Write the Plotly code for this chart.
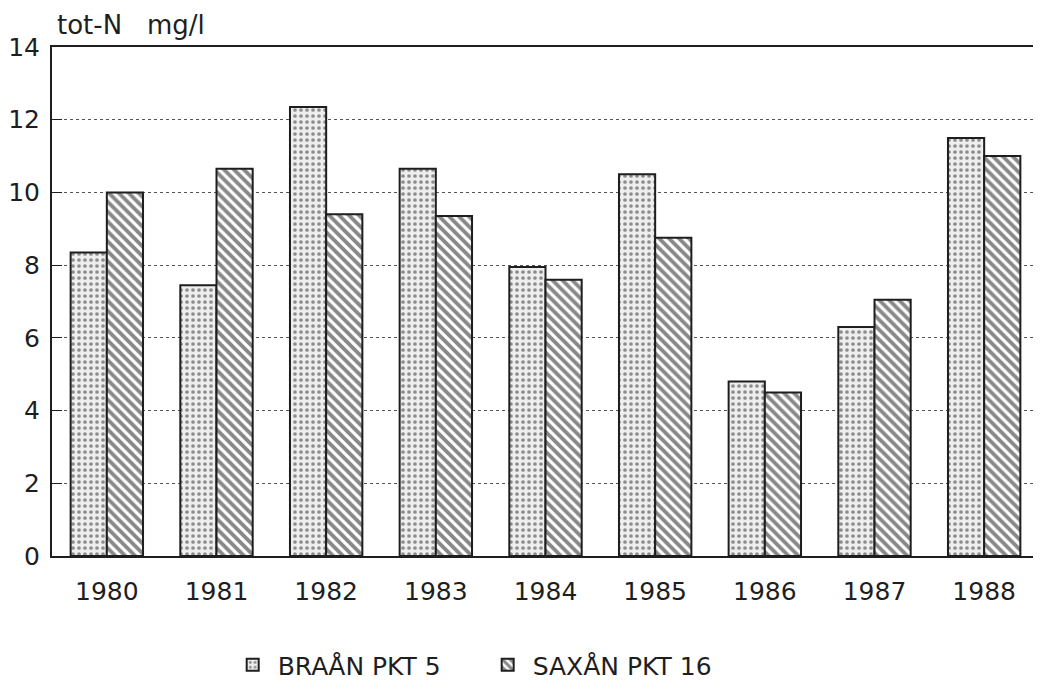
import plotly.graph_objects as go

years = ["1980", "1981", "1982", "1983", "1984", "1985", "1986", "1987", "1988"]
braan = [8.35, 7.45, 12.35, 10.65, 7.95, 10.5, 4.8, 6.3, 11.5]
saxan = [10.0, 10.65, 9.4, 9.35, 7.6, 8.75, 4.5, 7.05, 11.0]

font = "DejaVu Sans, sans-serif"
ink = "#1e1e1e"

fig = go.Figure()

# dotted bars
fig.add_trace(go.Bar(
    x=years, y=braan, name="BRAÅN PKT 5",
    marker=dict(color="#eeeeee",
                line=dict(color=ink, width=2),
                pattern=dict(shape=".", fgcolor="#2a2a2a", bgcolor="#eeeeee",
                             size=6, solidity=0.3)),
))

# hatched bars
fig.add_trace(go.Bar(
    x=years, y=saxan, name="SAXÅN PKT 16",
    marker=dict(color="white",
                line=dict(color=ink, width=2),
                pattern=dict(shape="\\", fgcolor="#111", bgcolor="white",
                             size=7, solidity=0.55)),
))

# page has an 8px body margin, keep the figure inside the window (no scrollbars)
fig.update_layout(
    width=1033, height=680,
    margin=dict(l=35, r=0, t=39, b=131),
    barmode="group", bargap=0.34, bargroupgap=0,
    plot_bgcolor="white", paper_bgcolor="white",
    font=dict(family=font, size=24, color=ink),
    showlegend=True,
    legend=dict(orientation="h", x=0.178, xanchor="left", y=-0.17, yanchor="top",
                font=dict(size=25), itemwidth=40, entrywidth=200,
                traceorder="normal"),
)

fig.update_xaxes(
    showline=True, linecolor=ink, linewidth=2, mirror=True,
    ticks="", ticklabelstandoff=12, tickfont=dict(size=25),
)
fig.update_yaxes(
    range=[0, 14], dtick=2, showline=True, linecolor=ink, linewidth=2, mirror=True,
    showgrid=True, gridcolor="#555", griddash="dot", gridwidth=1,
    ticks="inside", ticklen=10, tickcolor=ink, tickfont=dict(size=25),
    ticklabelstandoff=5, zeroline=False,
)

fig.add_annotation(text="tot-N   mg/l", xref="paper", yref="paper", x=0, y=1,
                   xshift=3, yshift=5, xanchor="left", yanchor="bottom",
                   showarrow=False, font=dict(size=26))

fig.write_html("out.html")
